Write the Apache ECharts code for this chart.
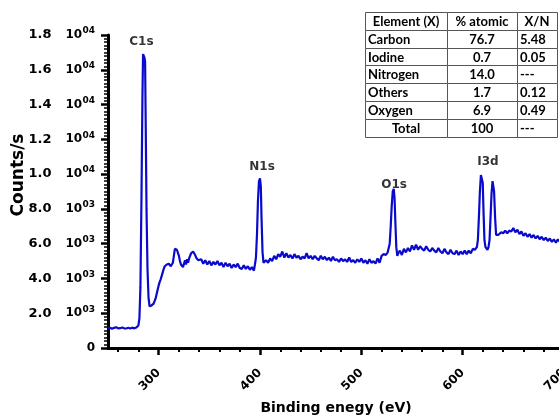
<!DOCTYPE html>
<html><head><meta charset="utf-8">
<script src="https://cdn.jsdelivr.net/npm/echarts@6/dist/echarts.min.js"></script>
<style>html,body{margin:0;padding:0;background:#fff}#c{width:559px;height:418px}</style>
</head><body><div id="c"></div>
<script>
// XPS survey spectrum: [binding energy (eV), counts/s]
const spectrum = [
[250,1130],[252,1170],[254,1110],[256,1160],[258,1190],[260,1130],[262,1140],[264,1180],[266,1130],[268,1120],
[270,1160],[272,1120],[274,1170],[276,1130],[278,1180],[280,1300],[281,1700],[282,3500],[283,8500],[284,14500],
[284.6,16900],[285.3,16950],[286,16700],[286.6,16500],[287.2,13000],[288,8000],[289,4500],[290,2900],[291,2400],[292,2350],
[293,2450],[294,2500],[295,2550],[296,2650],[297,2850],[298,3100],[299,3350],[300,3600],[301,3800],[302,3950],
[303,4150],[304,4350],[305,4550],[306,4700],[307,4600],[308,4800],[309,4700],[310,4850],[311,4750],[312,4700],
[313,4800],[314,4900],[315,5300],[316,5700],[317,5750],[318,5650],[319,5700],[320,5300],[321,5000],[322,4800],
[323,4700],[324,4650],[325,4750],[326,5050],[327,4800],[328,5100],[329,4900],[330,5150],[331,5300],[332,5450],
[333,5500],[334,5550],[335,5450],[336,5350],[337,5200],[338,5100],[339,5050],[340,4950],[342,5100],[344,4850],
[346,5050],[348,4800],[350,5000],[352,4750],[354,4950],[356,4800],[358,5000],[360,4750],[362,4900],[364,4650],
[366,4900],[368,4700],[370,4850],[372,4600],[374,4800],[376,4650],[378,4850],[380,4600],[382,4550],[384,4750],
[386,4550],[388,4700],[390,4500],[392,4650],[394,4450],[395,4800],[396,5200],[397,6500],[398,8500],[399,9600],
[400,9750],[400.8,9300],[401.5,7500],[402.5,5500],[403.5,4900],[404.5,4850],[406,5050],[408,4900],[410,5150],[412,5000],
[414,5300],[416,5100],[418,5400],[420,5250],[422,5550],[424,5200],[426,5450],[428,5200],[430,5350],[432,5150],
[434,5400],[436,5200],[438,5300],[440,5100],[442,5250],[444,5150],[446,5450],[448,5150],[450,5300],[452,5100],
[454,5300],[456,5150],[458,5050],[460,5300],[462,5100],[464,5250],[466,5050],[468,5200],[470,5000],[472,5250],
[474,5050],[476,5100],[478,4950],[480,5150],[482,5000],[484,5100],[486,4950],[488,5200],[490,4950],[492,5050],
[494,4900],[496,5100],[498,4950],[500,5150],[502,4900],[504,5050],[506,4850],[508,5100],[510,4900],[512,5000],
[514,4850],[516,5150],[518,4900],[520,5300],[522,5400],[524,5350],[526,5500],[527,5600],[528,6000],[529,7000],
[530,8200],[531,9000],[532,9150],[532.8,8600],[533.6,7200],[534.5,5800],[535.5,5300],[536.5,5450],[538,5600],[540,5350],
[542,5700],[544,5500],[546,5750],[548,5550],[550,5900],[552,5650],[554,5950],[556,5650],[558,5850],[560,5700],
[562,5600],[564,5850],[566,5650],[568,5550],[570,5750],[572,5600],[574,5500],[576,5750],[578,5550],[580,5450],
[582,5700],[584,5500],[586,5400],[588,5650],[590,5450],[592,5400],[594,5600],[596,5350],[598,5550],[600,5400],
[602,5600],[604,5400],[606,5600],[608,5450],[610,5700],[612,5650],[614,5800],[615,6200],[616,7500],[617,9000],
[618,9950],[619,10050],[619.8,9500],[620.6,7800],[621.5,6200],[622.5,5800],[623.5,5700],[624.5,5650],[625.5,5800],[626.5,6200],
[627.5,7500],[628.5,8900],[629.5,9600],[630.3,9650],[631,9000],[632,7500],[633,6500],[634,6400],[635,6500],[636,6400],
[638,6650],[640,6600],[642,6750],[644,6600],[646,6750],[648,6700],[650,6900],[652,6650],[654,6800],[656,6550],
[658,6700],[660,6450],[662,6600],[664,6400],[666,6550],[668,6350],[670,6500],[672,6300],[674,6450],[676,6250],
[678,6400],[680,6200],[682,6350],[684,6150],[686,6300],[688,6100],[690,6250],[692,6050],[694,6250],[696,6100],
[698,6200],[700,6100]
];

const yTickValues   = [0,2000,4000,6000,8000,10000,12000,14000,16000,18000];
const yTickMantissa = ['0','2.0','4.0','6.0','8.0','1.0','1.2','1.4','1.6','1.8'];
const yTickExponent = ['','03','03','03','03','04','04','04','04','04'];

const xTickValues = [300,400,500,600,700];
const xMinorTickValues = [260,280,320,340,360,380,420,440,460,480,520,540,560,580,620,640,660,680];

const peakNames  = ['C1s','N1s','O1s','I3d'];
const peakEnergy = [283,402,532.3,625];
const peakLabelCounts = [17600,10410,9370,10700];

const tableHeader   = ['Element (X)','% atomic','X/N'];
const tableElements = ['Carbon','Iodine','Nitrogen','Others','Oxygen','Total'];
const tableAtomic   = ['76.7','0.7','14.0','1.7','6.9','100'];
const tableRatio    = ['5.48','0.05','---','0.12','0.49','---'];

const chart = echarts.init(document.getElementById('c'));
const FONT = 'DejaVu Sans';
const TFONT = 'Lato';

// table graphic
const colX = [365,447,517,557];
const rowY0 = 12, rowH = 17.8;
const g = [];
const nRows = tableElements.length + 1;
for (let r = 0; r < nRows; r++) {
  for (let c = 0; c < 3; c++) {
    g.push({type:'rect', z:100, shape:{x:colX[c]+0.5, y:Math.round(rowY0+r*rowH)+0.5, width:colX[c+1]-colX[c], height:Math.round(rowY0+(r+1)*rowH)-Math.round(rowY0+r*rowH)},
      style:{fill:'#fff', stroke:'#555', lineWidth:1}});
  }
}
function cellText(txt, x, y, align) {
  g.push({type:'text', z:101, x:x, y:y, style:{text:txt, fill:'#000', fontFamily:TFONT, fontWeight:'bold', fontSize:13,
    align:align, verticalAlign:'middle', textAlign:align, textVerticalAlign:'middle'}});
}
for (let c = 0; c < 3; c++) cellText(tableHeader[c], (colX[c]+colX[c+1])/2, rowY0+rowH/2+1, 'center');
for (let r = 0; r < tableElements.length; r++) {
  const cy = rowY0 + (r+1)*rowH + rowH/2 + 1;
  if (tableElements[r] === 'Total') cellText(tableElements[r], (colX[0]+colX[1])/2, cy, 'center');
  else cellText(tableElements[r], colX[0]+3, cy, 'left');
  cellText(tableAtomic[r], (colX[1]+colX[2])/2, cy, 'center');
  cellText(tableRatio[r], colX[2]+3, cy, 'left');
}
// y axis title
g.push({type:'text', z:50, x:19, y:175, rotation:Math.PI/2,
  style:{text:'Counts/s', fill:'#000', fontFamily:FONT, fontWeight:'bold', fontSize:17,
  align:'center', verticalAlign:'middle', textAlign:'center', textVerticalAlign:'middle'}});

const option = {
  backgroundColor:'#fff',
  animation:false,
  grid:{left:108, top:35, right:-5, bottom:70, containLabel:false, outerBoundsMode:'none'},
  xAxis:[{
    type:'value', min:250, max:700, position:'bottom',
    axisLine:{show:true, onZero:false, lineStyle:{color:'#000', width:3}},
    axisTick:{show:true, customValues:xTickValues, length:7, lineStyle:{color:'#000', width:2.5}},
    axisLabel:{customValues:xTickValues, rotate:45, margin:23, color:'#000', fontFamily:FONT, fontWeight:'bold', fontSize:12},
    splitLine:{show:false},
    name:'Binding enegy (eV)', nameLocation:'middle', nameGap:53,
    nameTextStyle:{color:'#000', fontFamily:FONT, fontWeight:'bold', fontSize:14}
  },{
    type:'value', min:250, max:700, position:'bottom',
    axisLine:{show:false},
    axisTick:{show:true, customValues:xMinorTickValues, length:4, lineStyle:{color:'#000', width:2}},
    axisLabel:{show:false}, splitLine:{show:false}
  }],
  yAxis:{
    type:'value', min:0, max:18000, interval:2000,
    axisLine:{show:true, onZero:false, lineStyle:{color:'#000', width:3}},
    axisTick:{show:true, length:7, lineStyle:{color:'#000', width:2.5}},
    minorTick:{show:true, splitNumber:10, length:4, lineStyle:{color:'#000', width:1.5}},
    splitLine:{show:false}, minorSplitLine:{show:false},
    axisLabel:{
      margin:13, color:'#000',
      formatter:function(v){
        const i = yTickValues.indexOf(v);
        if (i <= 0) return '{z|' + yTickMantissa[0] + '}';
        return '{m|' + yTickMantissa[i] + '}{b|10}{e|' + yTickExponent[i] + '}';
      },
      rich:{
        z:{fontFamily:FONT, fontWeight:'bold', fontSize:12, color:'#000'},
        m:{fontFamily:FONT, fontWeight:'bold', fontSize:13, color:'#000', width:37, align:'left'},
        b:{fontFamily:FONT, fontWeight:'bold', fontSize:12, color:'#000', width:17, align:'left'},
        e:{fontFamily:FONT, fontWeight:'bold', fontSize:9, color:'#000', padding:[0,0,8,0]}
      }
    }
  },
  graphic:g,
  series:[{
    type:'line', xAxisIndex:0, data:spectrum, showSymbol:false, symbol:'none',
    lineStyle:{color:'#0a0acc', width:2.2}, z:5
  },{
    type:'scatter', xAxisIndex:0, symbolSize:0, silent:true, z:6,
    data:peakNames.map((n,i)=>({name:n, value:[peakEnergy[i], peakLabelCounts[i]]})),
    label:{show:true, position:'inside', formatter:'{b}', color:'#000', fontFamily:FONT, fontWeight:'bold', fontSize:12}
  }]
};
chart.setOption(option);
</script>
</body></html>
